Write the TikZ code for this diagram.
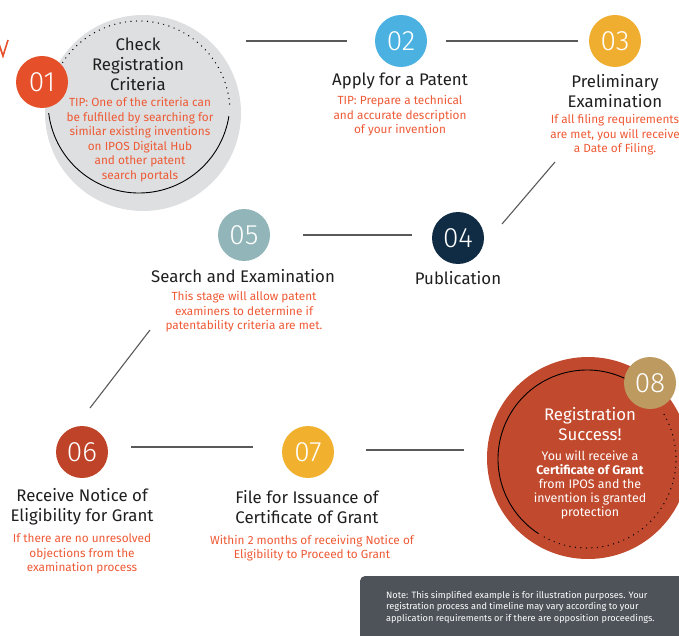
\documentclass[tikz,border=0pt]{standalone}
\usepackage{fontspec}
\setmainfont{Fira Sans}
\newfontfamily\numfont{Fira Sans Light}
\definecolor{ringgray}{HTML}{DEDFE0}
\definecolor{tiporange}{HTML}{EE5A35}
\definecolor{cone}{HTML}{E5502A}
\definecolor{ctwo}{HTML}{4BB1E1}
\definecolor{cthree}{HTML}{F0AE30}
\definecolor{cfour}{HTML}{0F2C44}
\definecolor{cfive}{HTML}{91B5B8}
\definecolor{csix}{HTML}{BF4328}
\definecolor{cseven}{HTML}{F1B12F}
\definecolor{ceight}{HTML}{C14A2E}
\definecolor{ctan}{HTML}{BD9A5F}
\definecolor{notegray}{HTML}{4D5359}
\tikzset{
	badge/.style={circle, inner sep=0pt, minimum size=52pt, text=white, font=\numfont\fontsize{28}{28}\selectfont},
	head/.style={align=center, inner sep=0pt, text=black!88, font=\fontsize{16.8}{20}\selectfont},
	tip/.style={align=center, inner sep=0pt, text=tiporange, font=\fontsize{11.8}{14.5}\selectfont},
	link/.style={draw=black!65, line width=1.1pt},
	dotring/.style={line width=1.4pt, line cap=round, dash pattern=on 0pt off 5.5pt},
}

\begin{document}
\begin{tikzpicture}[x=1pt, y=-1pt]
			%%%%% START %%%%%
			\useasboundingbox (0,0) rectangle (679,636);
			\clip (0,0) rectangle (679,636);
			
			\draw[cone, line width=1.6pt] (-1,44) -- (3,56) -- (8,40);
			
			\node[circle, fill=ringgray, minimum size=196pt] (big01) at (143,113) {};
			\draw[dotring] (139,112) ++(-147:91) arc[start angle=-147, end angle=-3, radius=91];
			\draw[line width=0.9pt] (139,102) ++(173:91) arc[start angle=173, end angle=9, radius=91];
			\node[badge, fill=cone] (n01) at (42,82) {01};
			\node[head] (h01) at (138,64) {Check\\Registration\\Criteria};
			\node[tip] (tip01) at (140,139.5) {TIP: One of the criteria can\\be fulfilled by searching for\\similar existing inventions\\on IPOS Digital Hub\\and other patent\\search portals};
			
			\node[badge, fill=ctwo] (n02) at (401,41) {02};
			\node[head] (h02) at (400,81) {Apply for a Patent};
			\node[tip] (tip02) at (400,116) {TIP: Prepare a technical\\and accurate description\\of your invention};
			
			\node[badge, fill=cthree] (n03) at (615,41) {03};
			\node[head] (h03) at (615,91) {Preliminary\\Examination};
			\node[tip] (tip03) at (615,135) {If all filing requirements\\are met, you will receive\\a Date of Filing.};
			
			\node[badge, fill=cfour] (n04) at (458,238) {04};
			\node[head] (h04) at (458,278) {Publication};
			
			\node[badge, fill=cfive] (n05) at (244,235) {05};
			\node[head] (h05) at (243,276) {Search and Examination};
			\node[tip] (tip05) at (244,312) {This stage will allow patent\\examiners to determine if\\patentability criteria are met.};
			
			\node[badge, fill=csix] (n06) at (82,452) {06};
			\node[head] (h06) at (82,506.5) {Receive Notice of\\Eligibility for Grant};
			\node[tip] (tip06) at (82,554) {If there are no unresolved\\objections from the\\examination process};
			
			\node[badge, fill=cseven] (n07) at (308,452) {07};
			\node[head] (h07) at (307,507) {File for Issuance of\\Certificate of Grant};
			\node[tip] (tip07) at (312,548) {Within 2 months of receiving Notice of\\Eligibility to Proceed to Grant};
			
			\node[circle, fill=ceight, minimum size=202pt] (big08) at (588,458) {};
			\draw[line width=0.9pt] (587,459) ++(-62:89) arc[start angle=-62, end angle=-237, radius=89];
			\draw[dotring] (587,459) ++(-30:89) arc[start angle=-30, end angle=120, radius=89];
			\node[badge, fill=ctan] (n08) at (650,383) {08};
			\node[head, text=white] (h08) at (590,424) {Registration\\Success!};
			\node[tip, text=white, font=\fontsize{12.4}{14}\selectfont] (tip08) at (590,485) {You will receive a\\\textbf{Certificate of Grant}\\from IPOS and the\\invention is granted\\protection};
			
			\draw[link, shorten <=5pt, shorten >=28pt] (big01.east |- n02) -- (n02.west);
			\draw[link, shorten <=19pt, shorten >=11pt] (n02.east) -- (n03.west);
			\draw[link] ([shift={(-60,121)}]n03.center) -- ([shift={(44,-14)}]n04.center);
			\draw[link, shorten <=33pt, shorten >=20pt] (n05.east) -- (n05.east -| n04.west);
			\draw[link] ([shift={(-94,95)}]n05.center) -- ([shift={(8,-44)}]n06.center);
			\draw[link, shorten <=23pt, shorten >=29pt] ([yshift=5pt]n06.east) -- ([yshift=5pt]n07.west);
			\draw[link, shorten <=32pt, shorten >=23pt] ([yshift=2pt]n07.east) -- ([yshift=2pt]n07.east -| big08.west);
			
			\fill[notegray, rounded corners=5pt] (360,576) rectangle (700,660);
			\node[anchor=north west, align=left, inner sep=0pt, text=white, font=\fontsize{9.2}{11.5}\selectfont] (note) at (386,591) {Note: This simplified example is for illustration purposes. Your\\registration process and timeline may vary according to your\\application requirements or if there are opposition proceedings.};
			%%%%% END %%%%%
\end{tikzpicture}
\end{document}
